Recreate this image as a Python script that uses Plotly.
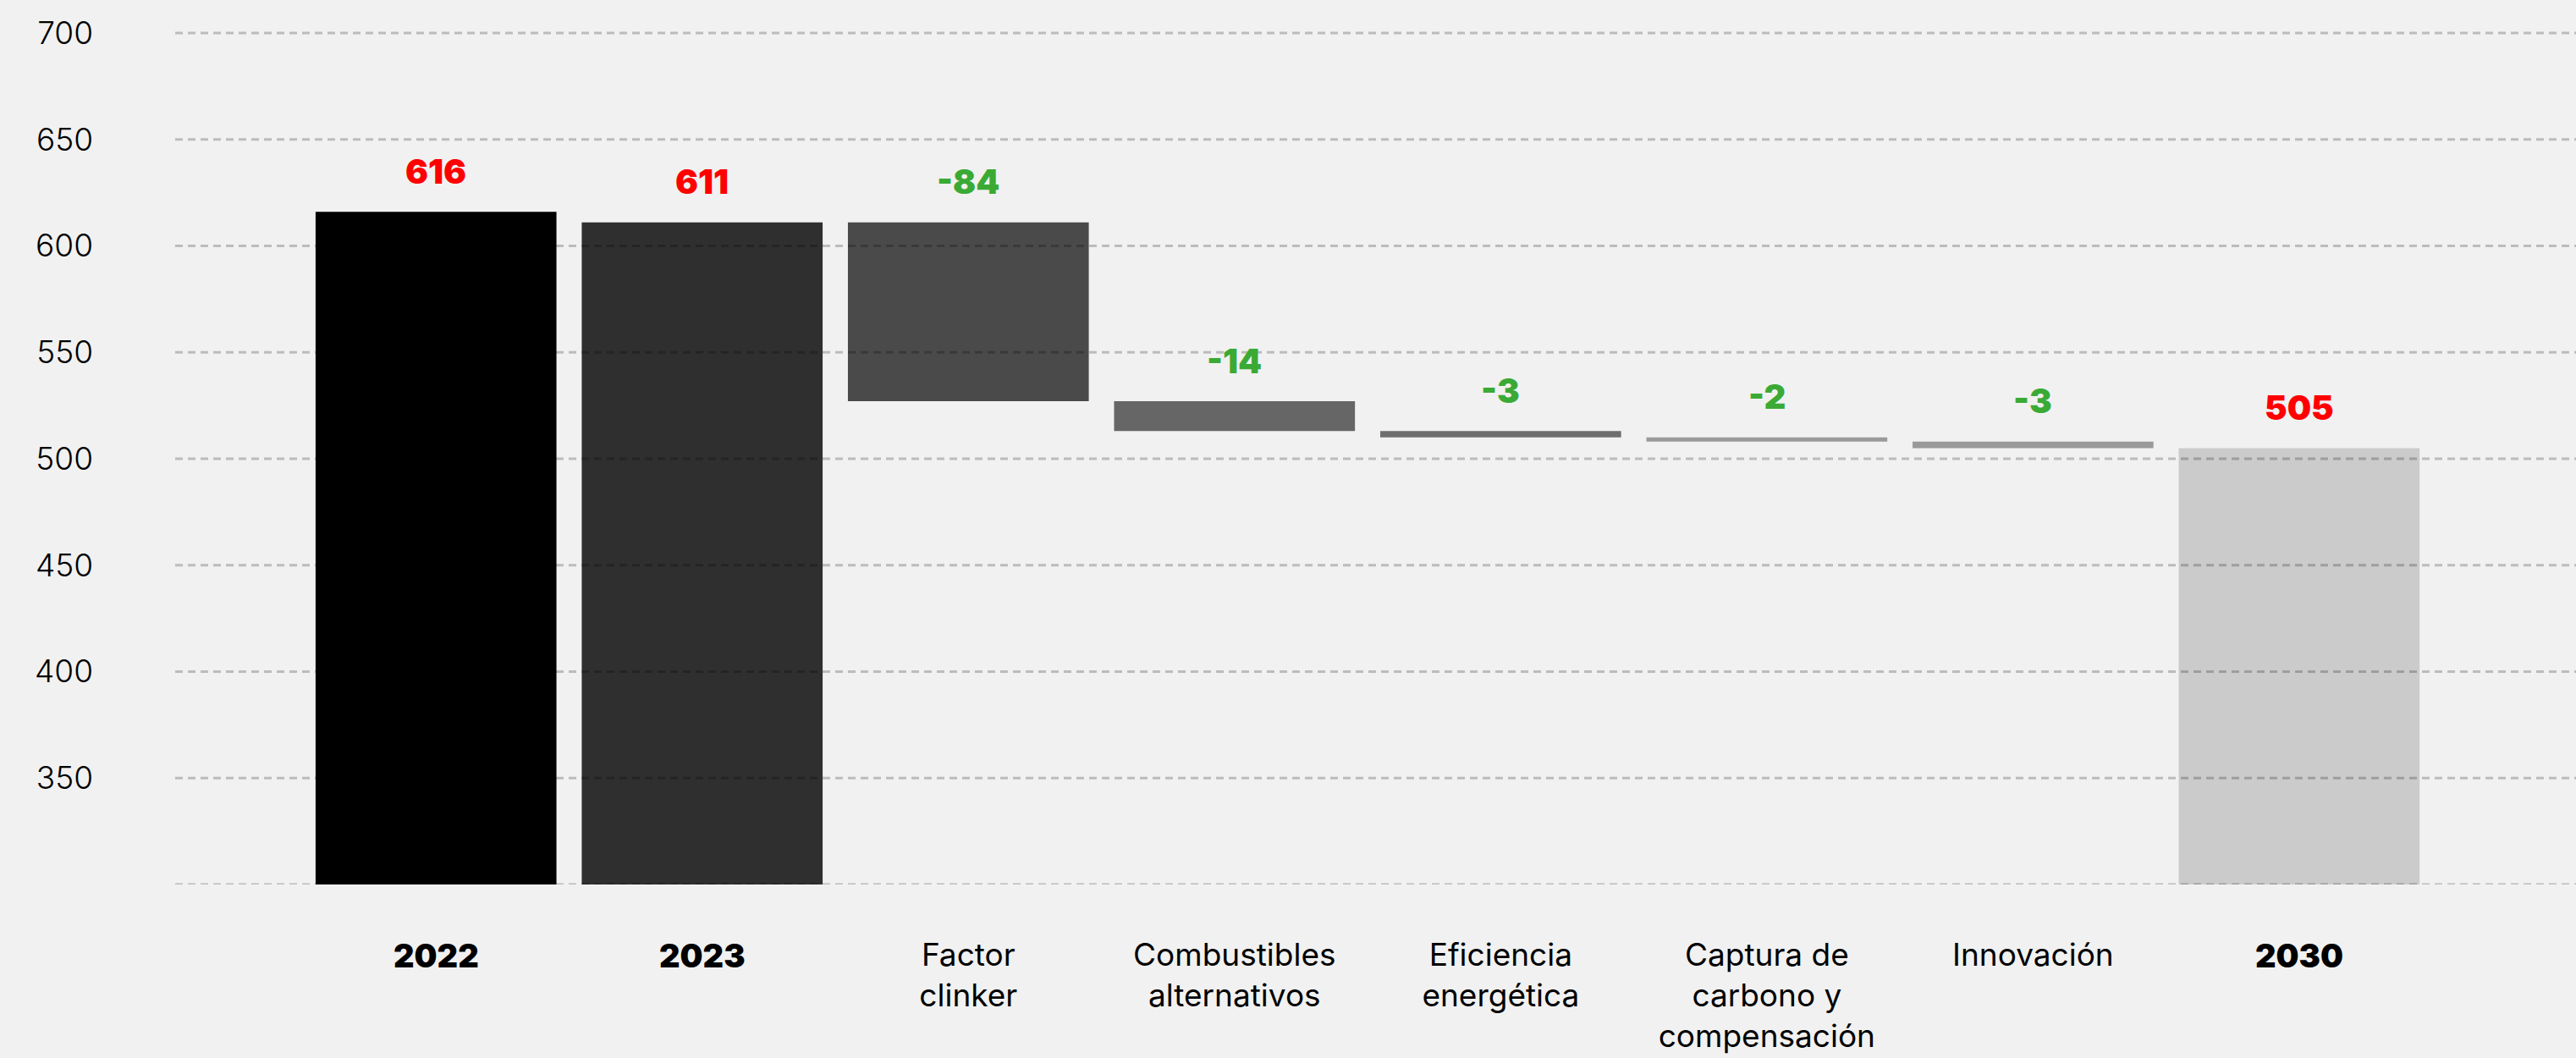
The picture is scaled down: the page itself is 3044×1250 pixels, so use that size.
import plotly.graph_objects as go

# Cement CO2 intensity roadmap (kg CO2 / t cement), waterfall style
categories = ["2022", "2023", "Factor clinker", "Combustibles alternativos",
              "Eficiencia energética", "Captura de carbono y compensación",
              "Innovación", "2030"]
tick_labels = ["2022", "2023", "Factor<br>clinker",
               "Combustibles<br>alternativos", "Eficiencia<br>energética",
               "Captura de<br>carbono y<br>compensación", "Innovación", "2030"]
values = [616, 611, -84, -14, -3, -2, -3, 505]
measures = ["absolute", "absolute", "relative", "relative", "relative",
            "relative", "relative", "total"]
bar_colors = ["#000000", "#2f2f2f", "#4a4a4a", "#666666", "#6e6e6e",
              "#9a9a9a", "#999999", "#cbcbcb"]
label_colors = ["#ff0000", "#ff0000", "#3aaa35", "#3aaa35", "#3aaa35",
                "#3aaa35", "#3aaa35", "#ff0000"]
y_ticks = [350, 400, 450, 500, 550, 600, 650, 700]
grid_levels = [300] + y_ticks

# Build bar bases/heights from the running total
bases, heights, tops = [], [], []
running = 0
for v, m in zip(values, measures):
    if m in ("absolute", "total"):
        running = v
        bases.append(0)
        heights.append(v)
        tops.append(v)
    else:
        new = running + v
        bases.append(new)
        heights.append(-v)
        tops.append(running)
        running = new

xs = list(range(len(categories)))
is_year = [m != "relative" for m in measures]

fig = go.Figure()
fig.add_trace(go.Bar(
    x=xs, y=heights, base=bases,
    marker=dict(color=bar_colors, line=dict(width=0)),
    width=0.905,
    hovertext=categories,
    showlegend=False,
))

# value labels above each bar
for x, top, v, c in zip(xs, tops, values, label_colors):
    fig.add_annotation(
        x=x, y=top, text=f"{v}", showarrow=False,
        yanchor="middle", yshift=48,
        font=dict(family="Inter", size=40, color=c, weight=900),
    )

# heavy year labels under the stock bars
for x, lab, yr in zip(xs, tick_labels, is_year):
    if yr:
        fig.add_annotation(
            x=x, xref="x", y=0, yref="paper", text=lab, showarrow=False,
            yanchor="middle", yshift=-84,
            font=dict(family="Inter", size=38, color="#000000", weight=900),
        )

# dashed horizontal guides drawn over the bars
for g in grid_levels:
    fig.add_shape(
        type="line", xref="paper", yref="y", x0=0, x1=1, y0=g, y1=g,
        line=dict(color="rgba(0,0,0,0.22)", width=3, dash="9px,6px"),
        layer="above",
    )

fig.update_layout(
    width=3044, height=1250,
    margin=dict(l=207, r=0, t=0, b=205),
    paper_bgcolor="#f1f1f1",
    plot_bgcolor="rgba(0,0,0,0)",
    bargap=0.095,
    font=dict(family="Inter", color="#000000"),
)
fig.update_xaxes(
    range=[-0.98, 8.04],
    tickmode="array", tickvals=xs,
    ticktext=["" if yr else lab for lab, yr in zip(tick_labels, is_year)],
    tickfont=dict(family="Inter", size=37, color="#000000"),
    showgrid=False, zeroline=False, showline=False, ticks="",
    ticklabelstandoff=58,
)
fig.update_yaxes(
    range=[300, 715.5],
    tickmode="array", tickvals=y_ticks,
    ticktext=[str(t) for t in y_ticks],
    tickfont=dict(family="Inter", size=37, color="#000000", weight=300),
    showgrid=False, zeroline=False, showline=False, ticks="",
    ticklabelstandoff=96,
)

fig.write_html("out.html")
